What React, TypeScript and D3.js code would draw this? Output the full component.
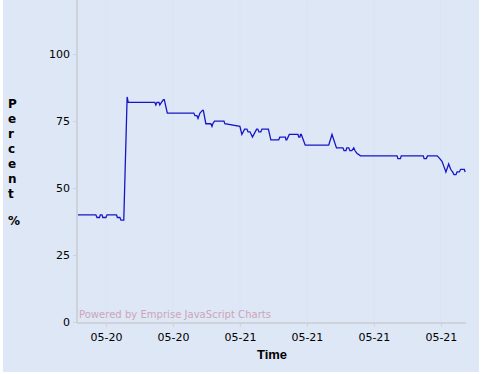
import { useEffect, useRef } from "react";
import * as d3 from "d3";

// sample times (05-20 afternoon to 05-21 midday)
const times = [
  "05-20 14:20", "05-20 15:24", "05-20 15:28", "05-20 15:37", "05-20 15:40", "05-20 15:46",
  "05-20 15:49", "05-20 16:00", "05-20 16:04", "05-20 16:38", "05-20 16:41", "05-20 16:50",
  "05-20 16:54", "05-20 17:04", "05-20 17:16", "05-20 17:20", "05-20 18:55", "05-20 18:59",
  "05-20 19:03", "05-20 19:10", "05-20 19:13", "05-20 19:19", "05-20 19:26", "05-20 19:29",
  "05-20 19:40", "05-20 21:15", "05-20 21:19", "05-20 21:26", "05-20 21:30", "05-20 21:37",
  "05-20 21:46", "05-20 21:49", "05-20 21:58", "05-20 22:16", "05-20 22:20", "05-20 22:23",
  "05-20 22:29", "05-20 23:03", "05-20 23:06", "05-21 00:00", "05-21 00:07", "05-21 00:17",
  "05-21 00:25", "05-21 00:29", "05-21 00:36", "05-21 00:45", "05-21 01:00", "05-21 01:04",
  "05-21 01:08", "05-21 01:15", "05-21 01:19", "05-21 01:42", "05-21 01:51", "05-21 02:19",
  "05-21 02:23", "05-21 02:43", "05-21 02:45", "05-21 02:48", "05-21 02:57", "05-21 03:28",
  "05-21 03:31", "05-21 03:35", "05-21 03:37", "05-21 03:40", "05-21 03:54", "05-21 05:18",
  "05-21 05:30", "05-21 05:46", "05-21 06:09", "05-21 06:13", "05-21 06:20", "05-21 06:23",
  "05-21 06:30", "05-21 06:34", "05-21 06:41", "05-21 06:48", "05-21 06:52", "05-21 06:59",
  "05-21 07:12", "05-21 09:23", "05-21 09:26", "05-21 09:35", "05-21 09:38", "05-21 10:57",
  "05-21 11:00", "05-21 11:08", "05-21 11:12", "05-21 11:47", "05-21 11:56", "05-21 12:04",
  "05-21 12:11", "05-21 12:18", "05-21 12:28", "05-21 12:35", "05-21 12:42", "05-21 12:47",
  "05-21 12:54", "05-21 12:58", "05-21 13:06", "05-21 13:11", "05-21 13:24", "05-21 13:27",
];

const percent = [
  40, 40, 39, 39, 40, 40,
  39, 39, 40, 40, 39, 39,
  38, 38, 84, 82, 82, 81,
  82, 82, 81, 82, 83, 83,
  78, 78, 77, 77, 76, 78,
  79, 79, 74, 74, 73, 74,
  75, 75, 74, 73, 70, 72,
  72, 71, 71, 69, 72, 72,
  71, 71, 72, 72, 68, 68,
  69, 69, 68, 68, 70, 70,
  69, 69, 70, 70, 66, 66,
  70, 65, 65, 64, 64, 65,
  65, 64, 64, 65, 64, 63,
  62, 62, 61, 61, 62, 62,
  61, 61, 62, 62, 61, 60,
  58, 56, 59, 57, 56, 55,
  55, 56, 56, 57, 57, 56,
];

const yTicks = [0, 25, 50, 75, 100];
const yLabel = ["P", "e", "r", "c", "e", "n", "t"];
const domainStart = "05-20 14:20";
const domainEnd = "05-21 13:30";

export default function App() {
  const svgRef = useRef<SVGSVGElement | null>(null);

  useEffect(() => {
    const width = 482;
    const height = 374;
    const parse = d3.timeParse("%Y-%m-%d %H:%M");
    const toDate = (s: string) => parse("2011-" + s)!;
    const data = times.map((t, i) => ({ t: toDate(t), v: percent[i] }));

    const svg = d3.select(svgRef.current).attr("width", width).attr("height", height);
    svg.selectAll("*").remove();

    svg.append("rect")
      .attr("x", 3).attr("y", 0)
      .attr("width", 476).attr("height", 372)
      .attr("fill", "#dee7f6");

    const left = 78, right = 466, top = 0.5, bottom = 322;

    const x = d3.scaleTime()
      .domain([toDate(domainStart), toDate(domainEnd)])
      .range([left, right]);

    const y = d3.scaleLinear().domain([0, 120]).range([bottom, top]);

    const xTicks = x.ticks(d3.timeHour.every(4)!);

    // faint vertical grid
    svg.append("g")
      .selectAll("line")
      .data(xTicks)
      .join("line")
      .attr("x1", d => x(d)).attr("x2", d => x(d))
      .attr("y1", top).attr("y2", bottom)
      .attr("stroke", "#dae3f3")
      .attr("stroke-width", 1);

    // watermark
    svg.append("text")
      .attr("x", 79).attr("y", 318)
      .attr("font-family", "DejaVu Sans")
      .attr("font-size", 10)
      .attr("fill", "#cca5b6")
      .attr("textLength", 192)
      .attr("lengthAdjust", "spacingAndGlyphs")
      .text("Powered by Emprise JavaScript Charts");

    // X axis
    const xAxis = svg.append("g")
      .attr("transform", `translate(0, ${bottom + 1})`)
      .call(d3.axisBottom(x).ticks(d3.timeHour.every(4)!).tickFormat(d3.timeFormat("%m-%d") as any).tickSize(4).tickPadding(6));
    xAxis.select(".domain").attr("stroke", "#cdd2db").attr("stroke-width", 2).attr("d", `M${left - 1},0H${right}`);
    xAxis.selectAll(".tick line").attr("stroke", "#cdd2db");
    xAxis.selectAll("text")
      .attr("font-family", "DejaVu Sans")
      .attr("font-size", 11)
      .attr("fill", "#000");

    // Y axis
    const yAxis = svg.append("g")
      .attr("transform", `translate(${left - 1}, 0)`)
      .call(d3.axisLeft(y).tickValues(yTicks).tickSize(4).tickPadding(3));
    yAxis.select(".domain").attr("stroke", "#cdd2db").attr("stroke-width", 2).attr("d", `M0,0V${bottom + 1}`);
    yAxis.selectAll(".tick line").attr("stroke", "#cdd2db");
    yAxis.selectAll("text")
      .attr("font-family", "DejaVu Sans")
      .attr("font-size", 11)
      .attr("fill", "#000");

    // series
    const line = d3.line<{ t: Date; v: number }>()
      .x(d => x(d.t))
      .y(d => y(d.v));

    svg.append("path")
      .datum(data)
      .attr("d", line)
      .attr("fill", "none")
      .attr("stroke", "#1616c8")
      .attr("stroke-width", 1.3);

    // axis titles
    svg.append("text")
      .attr("x", 272).attr("y", 359)
      .attr("text-anchor", "middle")
      .attr("font-family", "Liberation Sans")
      .attr("font-weight", "bold")
      .attr("font-size", 13)
      .attr("fill", "#000")
      .text("Time");

    const yl = svg.append("g")
      .attr("font-family", "DejaVu Sans")
      .attr("font-weight", "bold")
      .attr("font-size", 12)
      .attr("fill", "#000");
    yl.selectAll("text.l")
      .data(yLabel)
      .join("text")
      .attr("class", "l")
      .attr("x", 8)
      .attr("y", (_, i) => 108 + i * 15)
      .text(d => d);
    yl.append("text").attr("x", 8).attr("y", 225).text("%");
  }, []);

  return (
    <svg ref={svgRef} style={{ position: "absolute", left: 0, top: 0 }}></svg>
  );
}
